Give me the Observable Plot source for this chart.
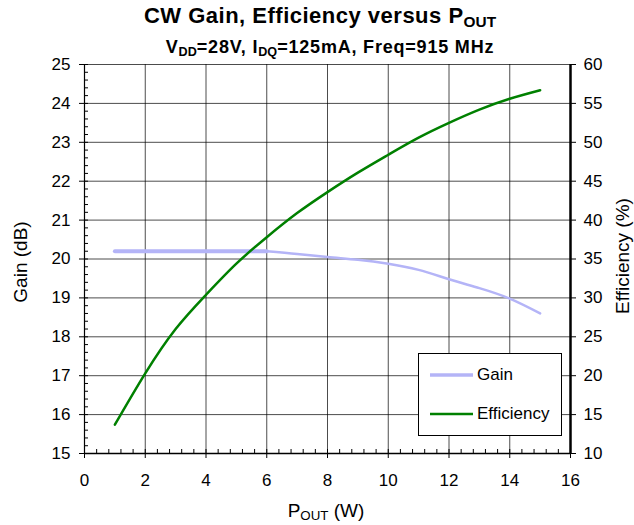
<!DOCTYPE html>
<html>
<head>
<meta charset="utf-8">
<script src="https://cdn.jsdelivr.net/npm/d3@7"></script>
<script src="https://cdn.jsdelivr.net/npm/@observablehq/plot@0.6"></script>
<style>
  html, body { margin: 0; padding: 0; background: #fff; }
  #wrap { position: relative; width: 634px; height: 525px; font-family: "Liberation Sans", Arial, sans-serif; color: #000; }
  .lbl { position: absolute; white-space: nowrap; line-height: 1; }
  .title { font-weight: bold; font-size: 22px; letter-spacing: 0.5px; transform: translate(-50%, -50%); }
  .sub { font-weight: bold; font-size: 18px; letter-spacing: 0.8px; transform: translate(-50%, -50%); }
  .ax { font-size: 19px; transform: translate(-50%, -50%); }
  .axv { font-size: 19px; transform: translate(-50%, -50%) rotate(-90deg); }
  sub { font-size: 0.7em; vertical-align: -0.25em; line-height: 0; letter-spacing: 0; }
  #legend { position: absolute; left: 418px; top: 353px; width: 144px; height: 83px; background: #fff; border: 1px solid #000; box-sizing: border-box; font-size: 17px; }
  #legend .row { position: absolute; left: 11px; display: flex; align-items: center; }
  #legend svg { margin-right: 4px; }
</style>
</head>
<body>
<div id="wrap">
  <div id="chart"></div>
  <div class="lbl title" style="left:320px; top:16px;">CW Gain, Efficiency versus P<sub>OUT</sub></div>
  <div class="lbl sub" style="left:330px; top:47px;">V<sub>DD</sub>=28V, I<sub>DQ</sub>=125mA, Freq=915 MHz</div>
  <div class="lbl axv" style="left:20px; top:262px;">Gain (dB)</div>
  <div class="lbl axv" style="left:622px; top:256px;">Efficiency (%)</div>
  <div class="lbl ax" style="left:326px; top:510px;">P<sub>OUT</sub> (W)</div>
  <div id="legend">
    <div class="row" style="top:11px;"><svg width="43" height="10"><line x1="0" x2="43" y1="5" y2="5" stroke="#b4b4f7" stroke-width="3.5"/></svg>Gain</div>
    <div class="row" style="top:50px;"><svg width="43" height="10"><line x1="0" x2="43" y1="5" y2="5" stroke="#008000" stroke-width="2.5"/></svg>Efficiency</div>
  </div>
</div>
<script>
// Data
const pout = [1, 2, 3, 4, 5, 6, 7, 8, 9, 10, 11, 12, 13, 14, 15];
const gain = [20.2, 20.2, 20.2, 20.2, 20.2, 20.2, 20.13, 20.05, 19.98, 19.88, 19.72, 19.48, 19.25, 18.98, 18.6];
const efficiency = [13.7, 20.3, 26.0, 30.4, 34.4, 37.8, 40.9, 43.6, 46.1, 48.4, 50.6, 52.5, 54.2, 55.6, 56.7];

const xTicks = d3.range(0, 16.001, 2);
const xMinor = d3.range(0, 16.001, 0.4);
const gainTicks = d3.range(15, 25.001, 1);
const gainMinor = d3.range(15, 25.001, 0.2);
const effTicks = d3.range(10, 60.001, 5);

// right axis: efficiency 10..60 shares the frame with gain 15..25
const effToGain = e => 15 + (e - 10) / 5;
const gainToEff = g => Math.round(10 + (g - 15) * 5);

const gainData = pout.map((p, i) => ({p, v: gain[i]}));
const effData = pout.map((p, i) => ({p, v: effToGain(efficiency[i])}));

const chart = Plot.plot({
  width: 634,
  height: 525,
  marginTop: 64,
  marginBottom: 72,
  marginLeft: 84,
  marginRight: 64,
  style: {fontFamily: '"Liberation Sans", Arial, sans-serif', fontSize: "17px", color: "#000", background: "#fff"},
  x: {domain: [0, 16]},
  y: {domain: [15, 25]},
  marks: [
    Plot.gridX(xTicks.slice(1, -1), {stroke: "#000", strokeOpacity: 0.7, strokeWidth: 1}),
    Plot.gridY(gainTicks.slice(1), {stroke: "#000", strokeOpacity: 0.7, strokeWidth: 1}),
    Plot.axisX(xMinor, {anchor: "bottom", tickSize: 4, dy: -4, tickFormat: () => "", label: null, stroke: "#000"}),
    Plot.axisY(gainMinor, {anchor: "left", tickSize: 4, dx: 4, tickFormat: () => "", label: null, stroke: "#000"}),
    Plot.axisX(xTicks, {anchor: "bottom", tickSize: 5, tickPadding: 15, label: null, fontSize: 17, stroke: "#000"}),
    Plot.axisY(gainTicks, {anchor: "left", tickSize: 5, tickPadding: 9, label: null, fontSize: 17, stroke: "#000"}),
    Plot.axisY(gainTicks, {anchor: "right", tickSize: 5, tickPadding: 8, tickFormat: gainToEff, label: null, fontSize: 17, stroke: "#000"}),
    Plot.ruleX([0], {stroke: "#000", strokeWidth: 1.2}),
    Plot.ruleX([16], {stroke: "#000", strokeWidth: 2.5}),
    Plot.ruleY([15], {stroke: "#000", strokeWidth: 1.5}),
    Plot.line(gainData.filter(d => d.p <= 6), {x: "p", y: "v", stroke: "#b4b4f7", strokeWidth: 4}),
    Plot.line(gainData.filter(d => d.p >= 6), {x: "p", y: "v", stroke: "#b4b4f7", strokeWidth: 2.5, curve: "natural"}),
    Plot.line(effData, {x: "p", y: "v", stroke: "#008000", strokeWidth: 2.5, curve: "natural"})
  ]
});
document.getElementById("chart").appendChild(chart);
</script>
</body>
</html>
